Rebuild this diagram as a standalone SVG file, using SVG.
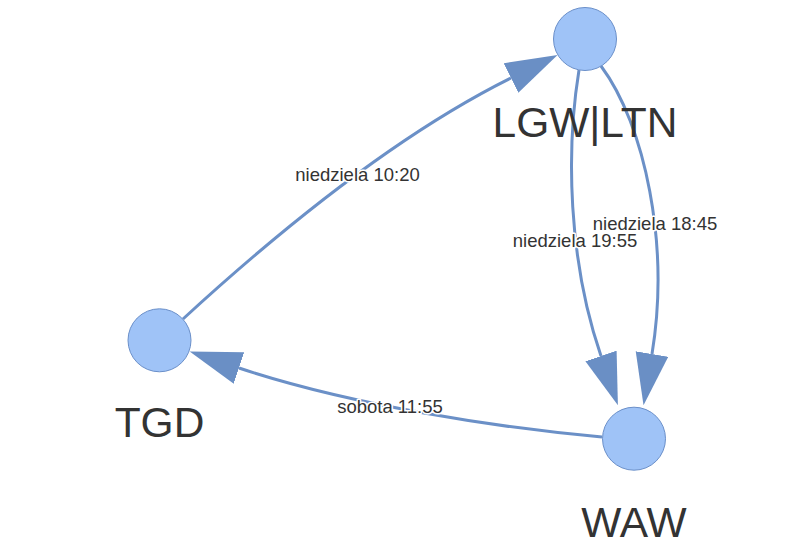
<svg xmlns="http://www.w3.org/2000/svg" width="802" height="557" viewBox="0 0 802 557">
<style>
.edge{fill:none;stroke:#6b90c7;stroke-width:3}
.node circle{fill:#9fc3f7;stroke:#6a8fc9;stroke-width:1}
.nlabel{font-family:"Liberation Sans",Arial,sans-serif;font-size:42.5px;fill:#333;text-anchor:middle}
.elabel{font-family:"Liberation Sans",Arial,sans-serif;font-size:18.5px;fill:#333;text-anchor:middle;stroke:#fff;stroke-width:3;paint-order:stroke;stroke-linejoin:round}
</style>
<defs>
<marker id="arr" markerUnits="userSpaceOnUse" markerWidth="54" markerHeight="34" refX="0" refY="16.5" orient="auto" viewBox="0 0 54 34">
<path d="M0,0 L52,16.5 L0,33 z" fill="#6a8fc5"/>
</marker>
</defs>
<rect width="802" height="557" fill="#fff"/>
<g id="edges">
<path class="edge" d="M183,319 Q368,149 511,78" marker-end="url(#arr)"/>
<path class="edge" d="M579,70 C566,150 568,260 601,356" marker-end="url(#arr)"/>
<path class="edge" d="M601,66 C645,125 670,245 652,354" marker-end="url(#arr)"/>
<path class="edge" d="M602,437 C500,428 350,405 239,368" marker-end="url(#arr)"/>
</g>
<g id="edge-labels">
<text class="elabel" x="357.5" y="181">niedziela 10:20</text>
<text class="elabel" x="655" y="230">niedziela 18:45</text>
<text class="elabel" x="575" y="247">niedziela 19:55</text>
<text class="elabel" x="390" y="413">sobota 11:55</text>
</g>
<g id="node-LGW" class="node">
<circle cx="585" cy="39" r="31.5"/>
<text class="nlabel" x="585" y="137">LGW|LTN</text>
</g>
<g id="node-TGD" class="node">
<circle cx="159.5" cy="340.3" r="31.5"/>
<text class="nlabel" x="159.5" y="437">TGD</text>
</g>
<g id="node-WAW" class="node">
<circle cx="634" cy="438.7" r="31.5"/>
<text class="nlabel" x="634" y="537">WAW</text>
</g>
</svg>
